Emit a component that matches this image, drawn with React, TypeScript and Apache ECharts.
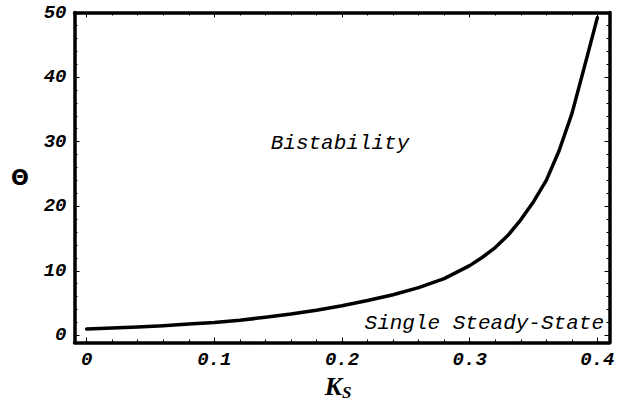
import React, { useEffect, useRef } from "react";
import * as echarts from "echarts";

const kValues = [0, 0.02, 0.04, 0.06, 0.08, 0.1, 0.12, 0.14, 0.16, 0.18, 0.2, 0.22, 0.24, 0.26, 0.28, 0.3, 0.31, 0.32, 0.33, 0.34, 0.35, 0.36, 0.37, 0.38, 0.39, 0.4];
const thetaValues = [1.0, 1.15, 1.3, 1.5, 1.75, 2.0, 2.35, 2.8, 3.3, 3.9, 4.6, 5.4, 6.3, 7.4, 8.8, 10.8, 12.1, 13.6, 15.5, 17.9, 20.7, 24.0, 28.6, 34.3, 41.7, 49.2];

const xTickValues = [0, 0.1, 0.2, 0.3, 0.4];
const xMinorTicks = [0.02, 0.04, 0.06, 0.08, 0.12, 0.14, 0.16, 0.18, 0.22, 0.24, 0.26, 0.28, 0.32, 0.34, 0.36, 0.38];
const yTickValues = [0, 10, 20, 30, 40, 50];
const yMinorTicks = [2, 4, 6, 8, 12, 14, 16, 18, 22, 24, 26, 28, 32, 34, 36, 38, 42, 44, 46, 48];

const X_MIN = -0.0095;
const X_MAX = 0.4095;
const Y_MIN = -1.1;
const Y_MAX = 50;

const tickFont = {
  fontFamily: "Liberation Mono",
  fontStyle: "italic" as const,
  fontWeight: "bold" as const,
  fontSize: 19,
  color: "#000",
};

function xAxisDef(position: "top" | "bottom", ticks: number[], len: number, labels: boolean, line: boolean) {
  return {
    type: "value",
    position,
    min: X_MIN,
    max: X_MAX,
    axisLine: { show: line, onZero: false, lineStyle: { color: "#000", width: 3.5 } },
    axisTick: { show: true, inside: true, length: len, customValues: ticks, lineStyle: { color: "#000", width: 1 } },
    axisLabel: labels
      ? { show: true, customValues: xTickValues, margin: 8, ...tickFont }
      : { show: false },
    splitLine: { show: false },
  };
}

function yAxisDef(position: "left" | "right", ticks: number[], len: number, labels: boolean, line: boolean) {
  return {
    type: "value",
    position,
    min: Y_MIN,
    max: Y_MAX,
    axisLine: { show: line, onZero: false, lineStyle: { color: "#000", width: 3.5 } },
    axisTick: { show: true, inside: true, length: len, customValues: ticks, lineStyle: { color: "#000", width: 1 } },
    axisLabel: labels
      ? { show: true, customValues: yTickValues, margin: 8, ...tickFont }
      : { show: false },
    splitLine: { show: false },
  };
}

export default function App() {
  const ref = useRef<HTMLDivElement>(null);
  useEffect(() => {
    if (!ref.current) return;
    const chart = echarts.init(ref.current, null, { renderer: "svg" });
    const data = kValues.map((k, i) => [k, thetaValues[i]]);
    chart.setOption({
      animation: false,
      backgroundColor: "#fff",
      grid: { left: 74.5, right: 13.5, top: 12.5, bottom: 58.5, containLabel: false },
      xAxis: [
        xAxisDef("bottom", xTickValues, 5, true, true),
        xAxisDef("bottom", xMinorTicks, 3, false, false),
        xAxisDef("top", xTickValues, 5, false, true),
        xAxisDef("top", xMinorTicks, 3, false, false),
      ],
      yAxis: [
        yAxisDef("left", yTickValues, 5, true, true),
        yAxisDef("left", yMinorTicks, 3, false, false),
        yAxisDef("right", yTickValues, 5, false, true),
        yAxisDef("right", yMinorTicks, 3, false, false),
      ],
      series: [
        {
          type: "line",
          xAxisIndex: 0,
          yAxisIndex: 0,
          data,
          symbol: "none",
          smooth: false,
          lineStyle: { color: "#000", width: 3.5, join: "round", cap: "round" },
        },
      ],
      graphic: [
        {
          type: "text",
          x: 20,
          y: 178,
          style: {
            text: "Θ",
            font: "bold 21px 'DejaVu Sans'",
            fill: "#000",
            align: "center",
            verticalAlign: "middle",
          },
        },
        {
          type: "text",
          x: 342,
          y: 386,
          style: {
            text: "K",
            font: "italic bold 26px 'Liberation Serif'",
            lineHeight: 20,
            fill: "#000",
            align: "right",
            verticalAlign: "middle",
          },
        },
        {
          type: "text",
          x: 342,
          y: 392,
          style: {
            text: "S",
            font: "italic bold 17px 'Liberation Serif'",
            lineHeight: 14,
            fill: "#000",
            align: "left",
            verticalAlign: "middle",
          },
        },
        {
          type: "text",
          x: 340,
          y: 143,
          style: {
            text: "Bistability",
            font: "italic 21px 'Liberation Mono'",
            fill: "#000",
            align: "center",
            verticalAlign: "middle",
          },
        },
        {
          type: "text",
          x: 604,
          y: 323,
          style: {
            text: "Single Steady-State",
            font: "italic 21px 'Liberation Mono'",
            fill: "#000",
            align: "right",
            verticalAlign: "middle",
          },
        },
      ],
    });
    return () => chart.dispose();
  }, []);
  return <div ref={ref} style={{ width: 623, height: 401, position: "absolute", left: 0, top: 0 }} />;
}
